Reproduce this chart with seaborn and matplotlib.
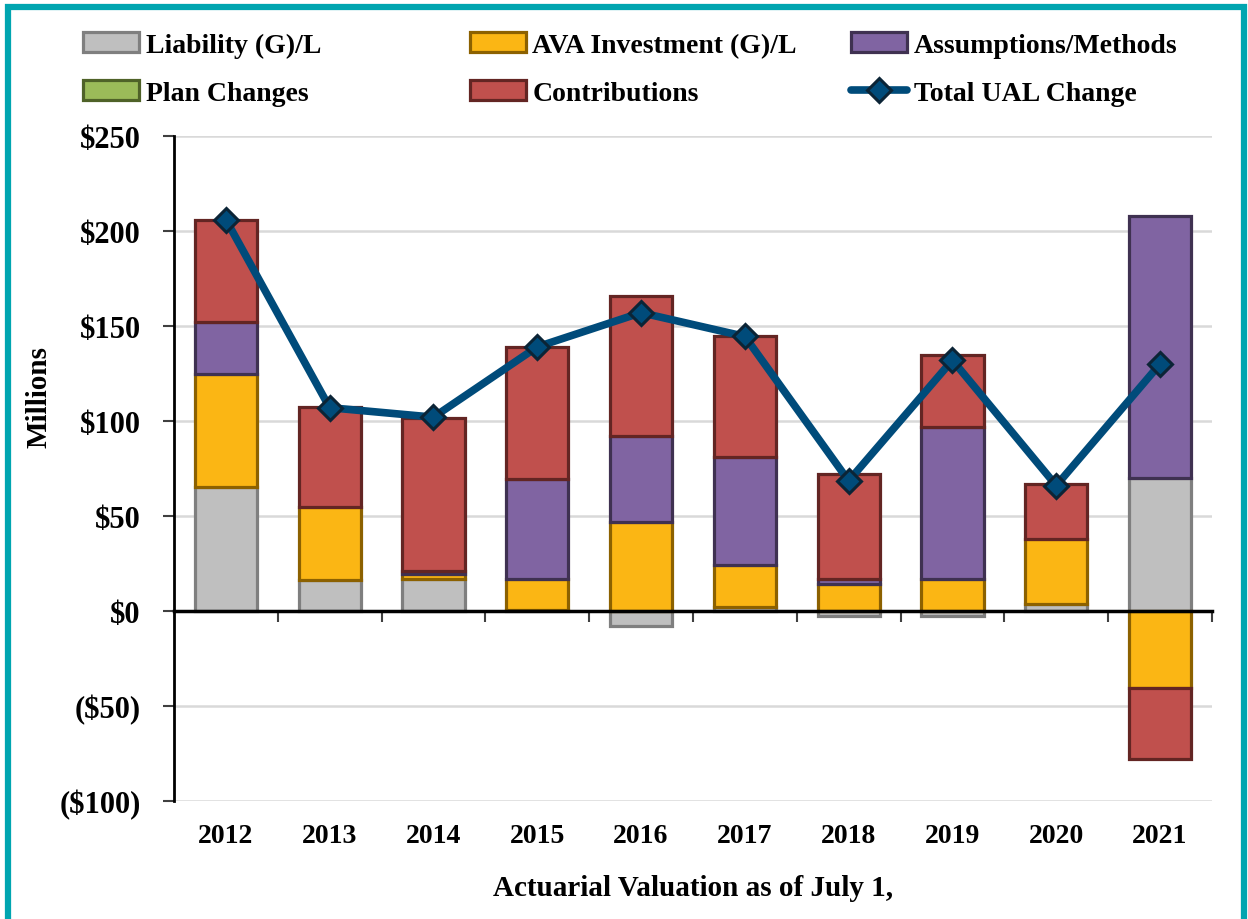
import numpy as np
import pandas as pd
import matplotlib
matplotlib.use("Agg")
import matplotlib.pyplot as plt
from matplotlib.patches import Patch, Rectangle
from matplotlib.lines import Line2D
from matplotlib.ticker import FuncFormatter, MultipleLocator
import seaborn as sns

# values in $ millions
years = ["2012", "2013", "2014", "2015", "2016", "2017", "2018", "2019", "2020", "2021"]
liability_gl = [65.3, 16.3, 16.8, 0.5, -8.0, 2.0, -2.7, -2.5, 3.5, 70.0]
ava_investment_gl = [59.4, 38.4, 2.5, 16.3, 47.0, 22.0, 14.0, 16.8, 34.5, -40.5]
assumptions_methods = [27.4, 0.0, 1.5, 52.7, 45.0, 57.0, 3.0, 80.0, 0.0, 138.0]
plan_changes = [0.0, 0.0, 0.0, 0.0, 0.0, 0.0, 0.0, 0.0, 0.0, 0.0]
contributions = [53.7, 52.6, 81.0, 69.5, 74.0, 63.6, 55.0, 38.0, 29.0, -37.5]
total_ual_change = [206.0, 107.0, 102.0, 139.0, 157.0, 144.5, 68.5, 132.0, 66.0, 130.0]

sns.set_style("white")
plt.rcParams["font.family"] = ["Liberation Serif", "DejaVu Serif"]
plt.rcParams["font.weight"] = "bold"
plt.rcParams["text.color"] = "black"
plt.rcParams["xtick.color"] = "black"
plt.rcParams["ytick.color"] = "black"
plt.rcParams["axes.labelcolor"] = "black"

layers = [
    ("Liability (G)/L", liability_gl, "#BFBFBF", "#7F7F7F"),
    ("AVA Investment (G)/L", ava_investment_gl, "#FBB614", "#8C6100"),
    ("Assumptions/Methods", assumptions_methods, "#8064A2", "#3F3151"),
    ("Plan Changes", plan_changes, "#9BBB59", "#4F6228"),
    ("Contributions", contributions, "#C0504D", "#632523"),
]
line_color = "#004B7A"

fig = plt.figure(figsize=(12.48, 9.2), dpi=100)
ax = fig.add_axes([0.1394, 0.1283, 0.8317, 0.7228])

x = np.arange(len(years))
pos_base = np.zeros(len(years))
neg_base = np.zeros(len(years))
handles = {}
for label, vals, fc, ec in layers:
    vals = np.array(vals, dtype=float)
    bottom = np.where(vals >= 0, pos_base, neg_base)
    keep = vals != 0
    ax.bar(x[keep], vals[keep], bottom=bottom[keep], width=0.6, color=fc,
           edgecolor=ec, linewidth=2.3, zorder=2)
    pos_base += np.clip(vals, 0, None)
    neg_base += np.clip(vals, None, 0)
    handles[label] = Patch(facecolor=fc, edgecolor=ec, linewidth=2.3)

df = pd.DataFrame({"pos": x, "total": total_ual_change})
sns.lineplot(data=df, x="pos", y="total", ax=ax, color=line_color, linewidth=5.5,
             marker="D", markersize=12, markerfacecolor=line_color,
             markeredgecolor="#0B2436", markeredgewidth=2.2, zorder=4)
handles["Total UAL Change"] = Line2D([], [], color=line_color, linewidth=5.5, marker="D",
                                     markersize=12, markerfacecolor=line_color,
                                     markeredgecolor="#0B2436", markeredgewidth=2.2)

# axes styling
ax.set_xlim(-0.5, len(years) - 0.5)
ax.set_ylim(-100, 250)
ax.yaxis.set_major_locator(MultipleLocator(50))
ax.yaxis.set_major_formatter(FuncFormatter(
    lambda v, p: f"${v:,.0f}" if v >= 0 else f"(${-v:,.0f})"))
ax.grid(axis="y", color="#D9D9D9", linewidth=1.8, zorder=0)
ax.set_axisbelow(True)
for s in ["top", "right"]:
    ax.spines[s].set_visible(False)
ax.spines["left"].set_linewidth(2)
ax.spines["left"].set_color("black")
ax.spines["bottom"].set_position(("data", 0))
ax.spines["bottom"].set_linewidth(2.5)
ax.spines["bottom"].set_color("black")
ax.spines["bottom"].set_zorder(3)

# year labels sit below the plot area, tick marks sit between categories on the zero line
ax.set_xticks(x)
ax.set_xticklabels([])
ax.set_xticks(np.arange(0.5, len(years), 1.0), minor=True)
ax.tick_params(axis="x", which="major", length=0)
ax.tick_params(axis="x", which="minor", bottom=True, direction="out", length=8, width=1.5,
               color="#404040")
ax.tick_params(axis="y", left=True, direction="out", length=8, width=1.5, color="#404040",
               labelsize=22, pad=16)
for lbl in ax.get_yticklabels():
    lbl.set_fontweight("bold")
ax.set_xlabel("")
ax.set_ylabel("")

for xi, yr in zip(x, years):
    ax.text(xi, -0.052, yr, transform=ax.get_xaxis_transform(), ha="center", va="center",
            fontsize=20, fontweight="bold")

fig.text(0.5 * (0.1394 + 0.971), 0.034, "Actuarial Valuation as of July 1,", ha="center",
         va="center", fontsize=21, fontweight="bold")
fig.text(0.031, 0.5683, "Millions", rotation=90, ha="center", va="center",
         fontsize=21, fontweight="bold")

# legend in three columns, laid out row-wise like the original
columns = [
    (83, ["Liability (G)/L", "Plan Changes"]),
    (470, ["AVA Investment (G)/L", "Contributions"]),
    (851, ["Assumptions/Methods", "Total UAL Change"]),
]
for x_px, labels in columns:
    fig.legend([handles[l] for l in labels], labels, loc="upper left",
               bbox_to_anchor=(x_px / 1248, 1 - 33 / 920), frameon=False,
               borderpad=0, borderaxespad=0, handlelength=2.0, handleheight=0.75,
               handletextpad=0.25, labelspacing=0.8,
               prop={"size": 20, "weight": "bold"})

# teal frame around the chart
fig.patches.append(Rectangle((8 / 1248, -0.05), (1236 / 1248), 0.05 + (912 / 920),
                             transform=fig.transFigure, fill=False,
                             edgecolor="#00A5B0", linewidth=4.5, zorder=10))

fig.savefig("out.png", dpi=100, facecolor="white")
